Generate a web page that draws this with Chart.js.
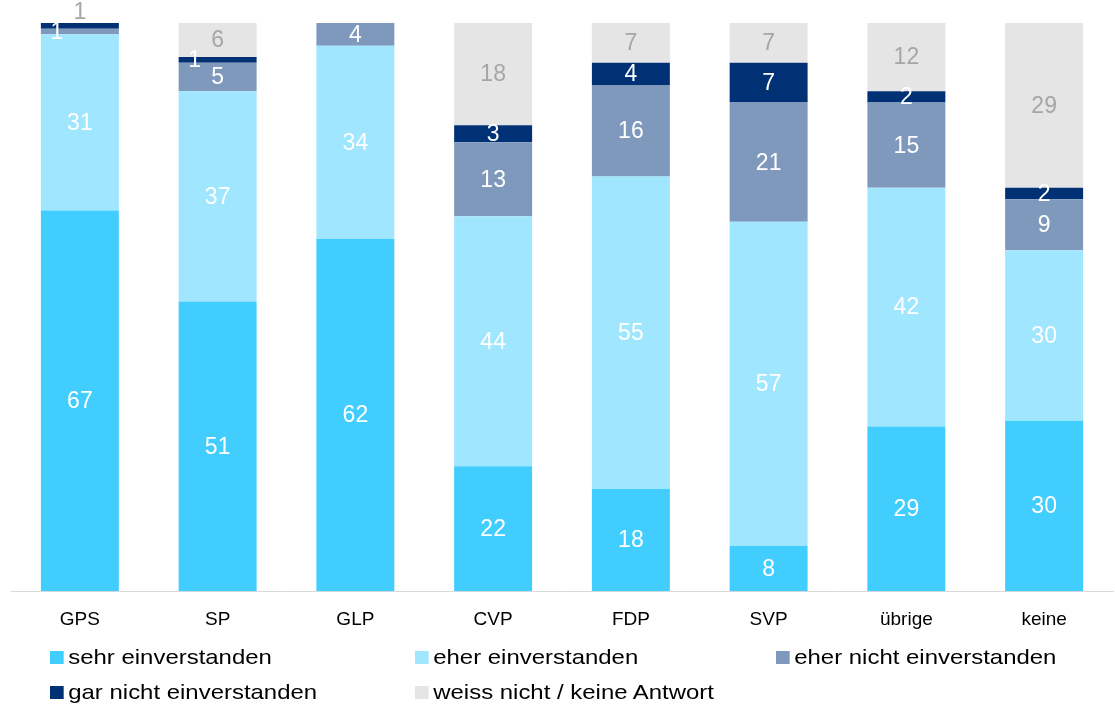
<!DOCTYPE html>
<html>
<head>
<meta charset="utf-8">
<script src="https://cdn.jsdelivr.net/npm/chart.js@4"></script>
<style>
  body { margin:0; background:#fff; font-family:"Liberation Sans", Arial, sans-serif; }
  #wrap { position:relative; width:1115px; height:704px; overflow:hidden; }
  canvas { display:block; }
  .leg { position:absolute; font-size:21px; color:#000; white-space:nowrap; line-height:24px;
         transform:scaleX(1.14); transform-origin:left center; }
  .leg i { display:inline-block; width:12px; height:13px; margin-right:4px; vertical-align:0px; }
</style>
</head>
<body>
<div id="wrap">
  <canvas id="c" width="1115" height="704"></canvas>
  <div id="legend"></div>
</div>
<script>
// categories and series (percent)
const categories = ['GPS','SP','GLP','CVP','FDP','SVP','übrige','keine'];
const sehr      = [67, 51, 62, 22, 18,  8, 29, 30];
const eher      = [31, 37, 34, 44, 55, 57, 42, 30];
const eherNicht = [ 1,  5,  4, 13, 16, 21, 15,  9];
const garNicht  = [ 1,  1,  0,  3,  4,  7,  2,  2];
const weissNicht= [ 1,  6,  0, 18,  7,  7, 12, 29];

const seriesNames = ['sehr einverstanden','eher einverstanden','eher nicht einverstanden','gar nicht einverstanden','weiss nicht / keine Antwort'];
const colors = ['#42CDFF','#A0E6FF','#7F99BC','#003174','#E5E5E5'];
const labelColors = ['#fff','#fff','#fff','#fff','#A6A6A6'];
const allSeries = [sehr, eher, eherNicht, garNicht, weissNicht];

// draw value labels inside segments
const segLabels = {
  id:'segLabels',
  afterDatasetsDraw(chart){
    const ctx = chart.ctx;
    ctx.save();
    ctx.font = '23px "Liberation Sans", Arial, sans-serif';
    ctx.textAlign = 'center';
    ctx.textBaseline = 'middle';
    const lastTiny = {};
    chart.data.datasets.forEach((ds, di) => {
      const meta = chart.getDatasetMeta(di);
      meta.data.forEach((bar, i) => {
        const v = ds.data[i];
        if(!v) return;
        const p = bar.getProps(['x','y','base'], true);
        let x = p.x, y = (p.y + p.base)/2 + 1;
        // tiny segments: label sits off to the side, overlapping ones dropped
        if(v <= 1 && di < 4){
          x -= 23;
          if(lastTiny[i] !== undefined && Math.abs(lastTiny[i] - y) < 12) return;
          lastTiny[i] = y;
        }
        if(di === 4 && y < chart.chartArea.top) y = chart.chartArea.top - 10;
        ctx.fillStyle = labelColors[di];
        ctx.fillText(String(v), x, y);
      });
    });
    ctx.restore();
  }
};

new Chart(document.getElementById('c'), {
  type:'bar',
  data:{
    labels: categories,
    datasets: allSeries.map((d, i) => ({
      label: seriesNames[i],
      data: d,
      backgroundColor: colors[i],
      borderWidth: 0,
      categoryPercentage: 1,
      barPercentage: 0.566
    }))
  },
  options:{
    responsive:false,
    animation:false,
    layout:{ padding:{ left:11, right:2, top:23, bottom:64 } },
    plugins:{ legend:{ display:false }, tooltip:{ enabled:false } },
    scales:{
      x:{
        stacked:true,
        grid:{ display:false },
        border:{ color:'#D9D9D9', width:1 },
        ticks:{ color:'#000', padding:9, font:{ family:'"Liberation Sans", Arial, sans-serif', size:19 } }
      },
      y:{ stacked:true, display:false, min:0, max:100 }
    }
  },
  plugins:[segLabels]
});

// legend laid out like the original (3 columns, 2 rows)
const legPos = [[50,645],[415,645],[776,645],[50,680],[415,680]];
const legend = document.getElementById('legend');
seriesNames.forEach((name, i) => {
  const d = document.createElement('div');
  d.className = 'leg';
  d.style.left = legPos[i][0] + 'px';
  d.style.top = legPos[i][1] + 'px';
  d.innerHTML = `<i style="background:${colors[i]}"></i>${name}`;
  legend.appendChild(d);
});
</script>
</body>
</html>
